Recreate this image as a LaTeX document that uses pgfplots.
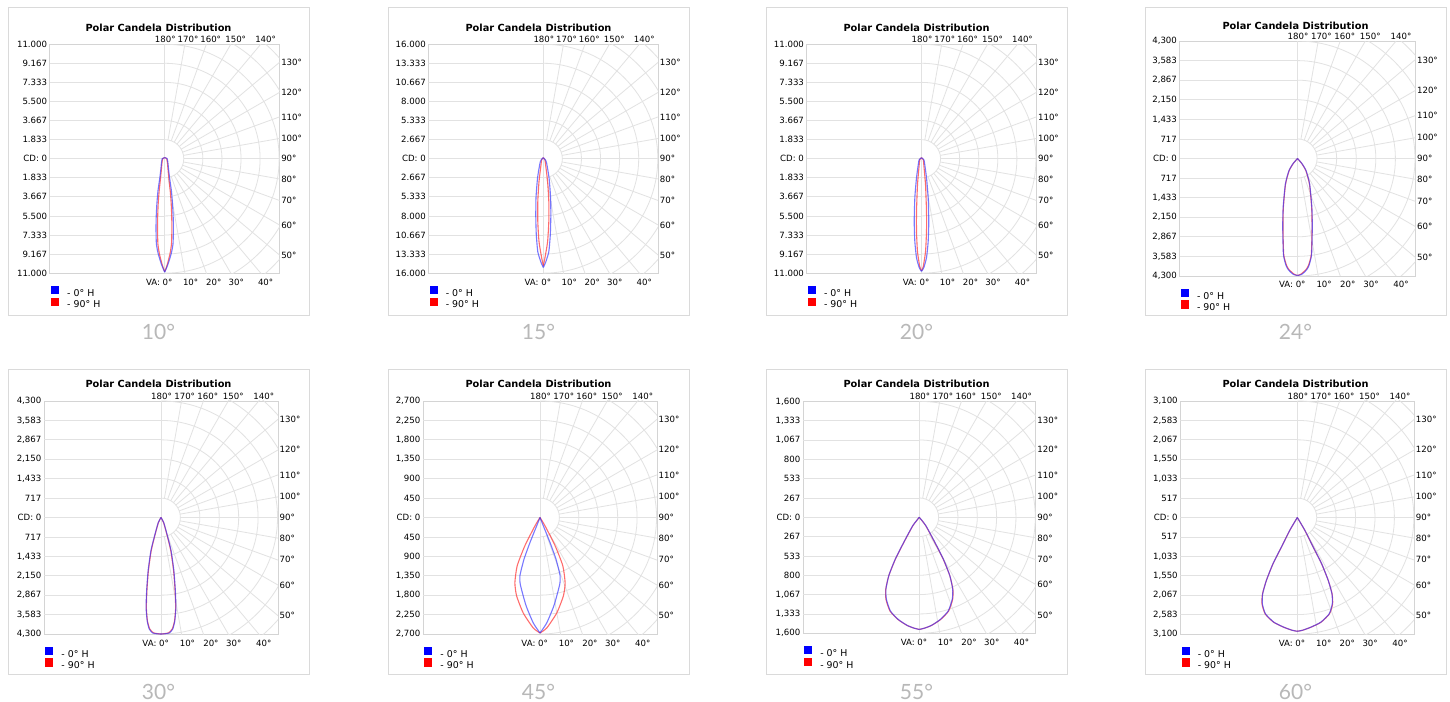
\documentclass[border=0pt]{standalone}
\usepackage{pgfplots}
\pgfplotsset{compat=1.18}
\usepackage{pgfplotstable}
\usepackage{fontspec}
\setmainfont{DejaVu Sans}
\newfontfamily\capfont{Lato}

\definecolor{gridc}{HTML}{E2E2E2}
\definecolor{framec}{HTML}{D4D4D4}
\definecolor{boxc}{HTML}{DADADA}
\definecolor{capc}{HTML}{B8B8B8}
\definecolor{cdblue}{HTML}{3030FF}
\definecolor{cdred}{HTML}{FF3030}
\definecolor{legblue}{HTML}{0000FF}
\definecolor{legred}{HTML}{FF0000}

\newcommand\tickfont{\fontsize{8.6bp}{10bp}\selectfont}
\newcommand\legfont{\fontsize{9.4bp}{11bp}\selectfont}
\newcommand\titlefont{\bfseries\fontsize{9.8bp}{11bp}\selectfont}
\newcommand\capsize{\capfont\fontsize{21bp}{24bp}\selectfont}

% d = depth below the lamp (cd, vertical component), w = half width (cd, horizontal component)
% 10 deg
\pgfplotstableread{
d w
-100 0
0 240
480 320
960 365
1920 480
3080 645
4320 750
5570 815
6730 835
8170 800
9130 625
10090 335
10570 145
10900 0
}\tenblue
\pgfplotstableread{
d w
-100 0
0 190
480 270
960 310
1920 405
3080 530
4320 625
5570 675
6730 690
8170 655
9130 510
10090 270
10570 115
10850 0
}\tenred
% 15 deg
\pgfplotstableread{
d w
-140 0
140 280
600 460
2650 800
5450 1020
8100 1050
10600 980
13000 770
14500 320
15200 0
}\fifblue
\pgfplotstableread{
d w
-140 0
140 220
840 320
3200 600
6000 770
8800 770
11600 600
13800 240
14950 0
}\fifred
% 20 deg
\pgfplotstableread{
d w
-96 0
96 220
410 290
1830 480
3750 640
6050 700
7980 640
9510 480
10470 220
10830 0
}\twblue
\pgfplotstableread{
d w
-96 0
96 170
580 220
2500 385
5090 480
7020 480
8940 385
10380 165
10760 0
}\twred
% 24 deg
\pgfplotstableread{
d w
0 0
183 160
450 315
941 445
1793 525
2525 540
3514 515
3916 420
4063 340
4172 240
4246 146
4282 0
}\tfblue
\pgfplotstableread{
d w
0 0
183 155
450 308
941 438
1793 518
2525 533
3514 505
3916 400
4063 315
4172 200
4246 105
4282 0
}\tfred
% 30 deg
\pgfplotstableread{
d w
0 0
185 100
620 222
1220 371
1965 475
2705 530
3335 549
3820 508
4115 434
4260 308
4290 160
4300 0
}\thblue
\pgfplotstableread{
d w
0 0
185 95
620 215
1220 360
1965 465
2705 520
3335 540
3820 500
4115 415
4255 280
4285 130
4300 0
}\thred
% 45 deg
\pgfplotstableread{
d w
0 0
193 77
582 233
971 372
1350 466
1530 460
1700 420
2049 321
2444 156
2677 0
}\ffblue
\pgfplotstableread{
d w
0 0
193 116
652 349
1117 528
1513 582
1816 542
2212 389
2561 156
2677 0
}\ffred
% 55 deg
\pgfplotstableread{
d w
0 0
115 90
346 215
578 332
803 420
993 461
1132 454
1292 399
1409 291
1492 166
1530 69
1547 0
}\fiveblue
\pgfplotstableread{
d w
0 0
115 88
346 213
578 330
803 420
993 463
1132 460
1292 405
1409 295
1492 168
1530 70
1547 0
}\fivered
% 60 deg
\pgfplotstableread{
d w
0 0
339 200
783 422
1229 647
1675 823
2031 922
2298 930
2565 847
2787 623
2920 355
3001 134
3027 0
}\sixblue
\pgfplotstableread{
d w
0 0
339 198
783 420
1229 645
1675 823
2031 925
2298 940
2565 855
2787 630
2920 360
3001 136
3027 0
}\sixred

% #1 cx, #2 cy, #3 bp per ring, #4 cd per ring, #5 tick labels, #6 blue table, #7 red table
\newcommand\polarpanel[7]{%
\begin{axis}[
  at={(#1bp,#2bp)}, anchor=center,
  x=#3bp, y=#3bp,
  xmin=-6.02, xmax=6.02, ymin=-6, ymax=6,
  axis line style={draw=framec, line width=0.8bp},
  xtick=\empty,
  ytick={-6,-5,-4,-3,-2,-1,0,1,2,3,4,5,6},
  yticklabels={#5},
  major tick length=0pt,
  tick style={draw=none},
  yticklabel style={font=\tickfont, inner sep=0pt, xshift=-2.5bp},
  clip mode=individual,
  legend style={at={(axis description cs:0,0)}, anchor=north west,
    xshift=1bp, yshift=-12.5bp, draw=none, fill=none, inner sep=0pt,
    font=\legfont, row sep=-2.3bp,
    /tikz/every odd column/.append style={column sep=6bp}},
  legend cell align=left,
  legend image code/.code={\fill[##1,draw=none,opacity=1] (0bp,-0.5bp) rectangle (8.2bp,7.7bp);},
]
\begin{scope}
  \clip (axis cs:-6.02,-6) rectangle (axis cs:6.02,6);
  \pgfplotsinvokeforeach{-5,...,5}{\draw[gridc, line width=0.8bp] (axis cs:-6.02,##1) -- (axis cs:0,##1);}
  \draw[gridc, line width=0.8bp] (axis cs:0,-6) -- (axis cs:0,6);
  \pgfplotsinvokeforeach{1,...,9}{\draw[gridc, line width=0.8bp] (axis cs:0,-##1) arc[start angle=-90,end angle=90,radius=##1*#3bp];}
  \pgfplotsinvokeforeach{10,20,...,170}{\draw[gridc, line width=0.8bp] (axis cs:0,0) ++(##1-90:#3bp) -- ++(##1-90:12*#3bp);}
\end{scope}
% angle labels
\node[font=\tickfont, anchor=base, inner sep=0pt, yshift=1.5bp] at (axis cs:0.03,6) {180°};
\node[font=\tickfont, anchor=base, inner sep=0pt, yshift=1.5bp] at (axis cs:1.22,6) {170°};
\node[font=\tickfont, anchor=base, inner sep=0pt, yshift=1.5bp] at (axis cs:2.41,6) {160°};
\node[font=\tickfont, anchor=base, inner sep=0pt, yshift=1.5bp] at (axis cs:3.72,6) {150°};
\node[font=\tickfont, anchor=base, inner sep=0pt, yshift=1.5bp] at (axis cs:5.29,6) {140°};
\node[font=\tickfont, anchor=west, inner sep=0pt, xshift=1.5bp] at (axis cs:6.02,5.03) {130°};
\node[font=\tickfont, anchor=west, inner sep=0pt, xshift=1.5bp] at (axis cs:6.02,3.49) {120°};
\node[font=\tickfont, anchor=west, inner sep=0pt, xshift=1.5bp] at (axis cs:6.02,2.19) {110°};
\node[font=\tickfont, anchor=west, inner sep=0pt, xshift=1.5bp] at (axis cs:6.02,1.07) {100°};
\node[font=\tickfont, anchor=west, inner sep=0pt, xshift=1.5bp] at (axis cs:6.02,0) {90°};
\node[font=\tickfont, anchor=west, inner sep=0pt, xshift=1.5bp] at (axis cs:6.02,-1.07) {80°};
\node[font=\tickfont, anchor=west, inner sep=0pt, xshift=1.5bp] at (axis cs:6.02,-2.18) {70°};
\node[font=\tickfont, anchor=west, inner sep=0pt, xshift=1.5bp] at (axis cs:6.02,-3.47) {60°};
\node[font=\tickfont, anchor=west, inner sep=0pt, xshift=1.5bp] at (axis cs:6.02,-5.05) {50°};
\node[font=\tickfont, anchor=base east, inner sep=0pt, yshift=-12bp] at (axis cs:0.42,-6) {VA: 0°};
\node[font=\tickfont, anchor=base, inner sep=0pt, yshift=-12bp] at (axis cs:1.36,-6) {10°};
\node[font=\tickfont, anchor=base, inner sep=0pt, yshift=-12bp] at (axis cs:2.57,-6) {20°};
\node[font=\tickfont, anchor=base, inner sep=0pt, yshift=-12bp] at (axis cs:3.75,-6) {30°};
\node[font=\tickfont, anchor=base, inner sep=0pt, yshift=-12bp] at (axis cs:5.29,-6) {40°};
% candela curves, mirrored about the nadir
\addplot[cdred, opacity=0.7, line width=1.1bp, line join=round, smooth, tension=0.35, forget plot]
  table[x expr=\thisrow{w}/#4, y expr=-\thisrow{d}/#4]{#7};
\addplot[cdred, opacity=0.7, line width=1.1bp, line join=round, smooth, tension=0.35, forget plot]
  table[x expr=-\thisrow{w}/#4, y expr=-\thisrow{d}/#4]{#7};
\addplot[cdblue, opacity=0.65, line width=1.1bp, line join=round, smooth, tension=0.35, forget plot]
  table[x expr=\thisrow{w}/#4, y expr=-\thisrow{d}/#4]{#6};
\addplot[cdblue, opacity=0.65, line width=1.1bp, line join=round, smooth, tension=0.35, forget plot]
  table[x expr=-\thisrow{w}/#4, y expr=-\thisrow{d}/#4]{#6};
\addlegendimage{legblue}\addlegendentry{- 0° H}
\addlegendimage{legred}\addlegendentry{- 90° H}
\end{axis}}

% #1 box left, #2 box bottom, #3 box top, #4 caption, #5 title baseline
\newcommand\panelframe[5]{%
  \draw[boxc, line width=1bp] (#1bp,#2bp) rectangle ({#1bp+301bp},#3bp);
  \node[font=\titlefont, anchor=base] at ({#1bp+150.5bp},#5bp) {Polar Candela Distribution};
  \node[font=\capsize, text=capc, anchor=base] at ({#1bp+150.5bp},{#2bp-24bp}) {#4};
}

\begin{document}
\begin{tikzpicture}
\fill[white, use as bounding box] (0,0) rectangle (1450bp,702bp);

\panelframe{8}{386}{694}{10°}{670.5}
\panelframe{388}{386}{694}{15°}{670.5}
\panelframe{766}{386}{694}{20°}{670.5}
\panelframe{1145}{386}{694}{24°}{672.3}
\panelframe{8}{27}{332}{30°}{314}
\panelframe{388}{27}{332}{45°}{314}
\panelframe{766}{27}{332}{55°}{314}
\panelframe{1145}{27}{332}{60°}{314}

\polarpanel{164.7}{543.3}{19.08}{1833.333}
  {11.000,9.167,7.333,5.500,3.667,1.833,CD: 0,1.833,3.667,5.500,7.333,9.167,11.000}
  {\tenblue}{\tenred}
\polarpanel{543.3}{543.3}{19.08}{2666.667}
  {16.000,13.333,10.667,8.000,5.333,2.667,CD: 0,2.667,5.333,8.000,10.667,13.333,16.000}
  {\fifblue}{\fifred}
\polarpanel{921.5}{543.3}{19.08}{1833.333}
  {11.000,9.167,7.333,5.500,3.667,1.833,CD: 0,1.833,3.667,5.500,7.333,9.167,11.000}
  {\twblue}{\twred}
\polarpanel{1297.5}{543.5}{19.58}{716.667}
  {{4,300},{3,583},{2,867},{2,150},{1,433},717,CD: 0,717,{1,433},{2,150},{2,867},{3,583},{4,300}}
  {\tfblue}{\tfred}
\polarpanel{161}{184.5}{19.42}{716.667}
  {{4,300},{3,583},{2,867},{2,150},{1,433},717,CD: 0,717,{1,433},{2,150},{2,867},{3,583},{4,300}}
  {\thblue}{\thred}
\polarpanel{540}{184.5}{19.42}{450}
  {{2,700},{2,250},{1,800},{1,350},900,450,CD: 0,450,900,{1,350},{1,800},{2,250},{2,700}}
  {\ffblue}{\ffred}
\polarpanel{919.3}{184.7}{19.33}{266.667}
  {{1,600},{1,333},{1,067},800,533,267,CD: 0,267,533,800,{1,067},{1,333},{1,600}}
  {\fiveblue}{\fivered}
\polarpanel{1297.3}{184.5}{19.42}{516.667}
  {{3,100},{2,583},{2,067},{1,550},{1,033},517,CD: 0,517,{1,033},{1,550},{2,067},{2,583},{3,100}}
  {\sixblue}{\sixred}
\end{tikzpicture}
\end{document}
